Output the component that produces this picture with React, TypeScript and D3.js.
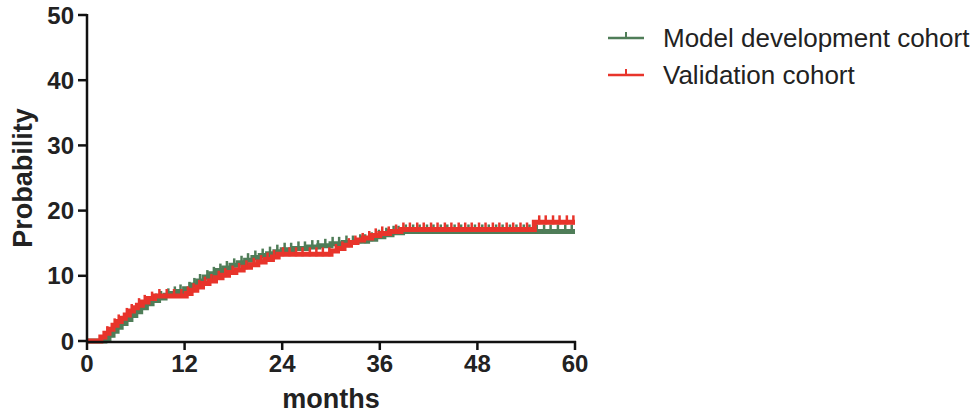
import * as d3 from "d3";

// step points (months, cumulative probability %)
const devMonths = [0, 2.2, 2.7, 3.2, 3.7, 4.2, 4.8, 5.4, 6.0, 6.6, 7.3, 8.0, 8.8, 9.6, 10.4, 11.2, 12.0, 12.8, 13.6, 14.4, 15.2, 16.0, 16.8, 17.7, 18.6, 19.5, 20.4, 21.3, 22.2, 23.1, 24.0, 25.5, 27.0, 28.5, 30.0, 31.5, 33.0, 34.5, 35.5, 36.5, 37.5, 38.8, 60];
const devValues = [0, 0.4, 0.9, 1.5, 2.1, 2.7, 3.3, 3.9, 4.5, 5.1, 5.7, 6.2, 6.6, 7.0, 7.3, 7.6, 8.0, 8.6, 9.2, 9.8, 10.3, 10.8, 11.2, 11.6, 12.0, 12.4, 12.8, 13.1, 13.4, 13.7, 14.0, 14.2, 14.4, 14.6, 14.9, 15.1, 15.3, 15.6, 16.0, 16.3, 16.6, 16.8, 16.8];
const devCensor = [3.1, 4.4, 5.6, 6.9, 7.8, 8.5, 9.1, 10.0, 10.8, 11.5, 12.6, 13.2, 13.9, 14.8, 15.6, 16.4, 17.2, 18.1, 19.0, 19.8, 20.7, 21.6, 22.5, 23.4, 24.3, 25.1, 26.0, 26.8, 27.7, 28.4, 29.3, 30.2, 31.0, 31.9, 32.7, 33.6, 34.2, 35.0, 35.9, 36.8, 37.7, 38.3, 39.2, 40.1, 40.9, 41.8, 42.6, 43.5, 44.3, 45.2, 46.0, 46.9, 47.7, 48.6, 49.4, 50.3, 51.1, 52.0, 52.8, 53.7, 54.4, 55.3, 56.2, 57.0, 57.9, 58.8, 59.6];

const valMonths = [0, 1.7, 2.2, 2.7, 3.2, 3.7, 4.2, 4.7, 5.2, 5.7, 6.2, 6.8, 7.5, 8.3, 12.2, 12.8, 13.5, 14.2, 15.0, 15.8, 16.6, 17.4, 18.3, 19.2, 20.1, 21.0, 21.9, 22.8, 23.5, 30.0, 30.8, 31.6, 32.4, 33.2, 34.0, 35.0, 36.0, 37.2, 38.6, 55.0, 60];
const valValues = [0, 0.6, 1.2, 1.8, 2.4, 3.0, 3.5, 4.0, 4.6, 5.1, 5.5, 6.0, 6.5, 6.9, 7.3, 7.8, 8.3, 8.8, 9.2, 9.7, 10.1, 10.5, 10.9, 11.3, 11.7, 12.1, 12.5, 12.9, 13.3, 13.8, 14.2, 14.7, 15.1, 15.5, 15.8, 16.2, 16.5, 16.8, 17.1, 18.2, 18.2];
const valCensor = [2.5, 3.4, 3.9, 4.9, 5.5, 6.4, 7.1, 8.0, 8.9, 9.8, 10.7, 11.6, 12.4, 13.1, 13.8, 14.5, 15.3, 16.2, 17.0, 17.9, 18.7, 19.6, 20.5, 21.4, 22.2, 23.0, 24.1, 24.9, 25.7, 26.5, 27.4, 28.2, 29.0, 29.8, 30.6, 31.4, 32.2, 33.0, 33.9, 34.7, 35.5, 36.3, 37.1, 38.0, 38.9, 39.7, 40.6, 41.4, 42.3, 43.1, 44.0, 44.8, 45.7, 46.5, 47.3, 48.2, 49.0, 49.9, 50.7, 51.6, 52.4, 53.3, 54.1, 55.6, 56.4, 57.3, 58.1, 59.0, 59.8];

const xTicks = [0, 12, 24, 36, 48, 60];
const yTicks = [0, 10, 20, 30, 40, 50];

const series = [
  { name: "Model development cohort", color: "#4f7d58", months: devMonths, values: devValues, censor: devCensor },
  { name: "Validation cohort", color: "#e8342b", months: valMonths, values: valValues, censor: valCensor },
];

const font = "'Liberation Sans', Arial, sans-serif";

export default function App() {
  const x = d3.scaleLinear().domain([0, 60]).range([87, 575]);
  const y = d3.scaleLinear().domain([0, 50]).range([341, 15]);

  // value at time t for a step curve
  const stepAt = (months: number[], values: number[], t: number) => {
    const i = d3.bisectRight(months, t) - 1;
    return values[Math.max(0, i)];
  };

  return (
    <div style={{ position: "absolute", left: 0, top: 0 }}>
      <svg width={978} height={418} style={{ display: "block", background: "#fff" }}>
        {/* curves */}
        {series.map((s) => {
          const pts = s.months.map((m, i) => [m, s.values[i]] as [number, number]);
          const path = d3
            .line<[number, number]>()
            .x((d) => x(d[0]))
            .y((d) => y(d[1]))
            .curve(d3.curveStepAfter)(pts);
          return (
            <g key={s.name}>
              <path d={path ?? ""} fill="none" stroke={s.color} strokeWidth={5} />
              {s.censor.map((c, i) => {
                const yy = y(stepAt(s.months, s.values, c));
                return (
                  <line key={i} x1={x(c)} x2={x(c)} y1={yy + 2} y2={yy - 7} stroke={s.color} strokeWidth={2.5} />
                );
              })}
            </g>
          );
        })}

        {/* axes */}
        <g stroke="#111" strokeWidth={2.5} fill="none">
          <line x1={x(0)} x2={x(0)} y1={y(50) - 1} y2={y(0) + 1} />
          <line x1={x(0) - 1} x2={x(60) + 1} y1={y(0) + 1} y2={y(0) + 1} />
          {yTicks.map((t) => (
            <line key={t} x1={x(0) - 9} x2={x(0)} y1={y(t)} y2={y(t)} />
          ))}
          {xTicks.map((t) => (
            <line key={t} x1={x(t)} x2={x(t)} y1={y(0)} y2={y(0) + 9} />
          ))}
        </g>
        <g fontFamily={font} fontWeight="bold" fontSize={24} fill="#222">
          {yTicks.map((t) => (
            <text key={t} x={x(0) - 13} y={y(t) + 8.5} textAnchor="end">{t}</text>
          ))}
          {xTicks.map((t) => (
            <text key={t} x={x(t)} y={y(0) + 31} textAnchor="middle">{t}</text>
          ))}
        </g>
        <text x={(x(0) + x(60)) / 2} y={408} textAnchor="middle" fontFamily={font} fontWeight="bold" fontSize={27} fill="#222">months</text>
        <text transform={`translate(32,${(y(0) + y(50)) / 2}) rotate(-90)`} textAnchor="middle" fontFamily={font} fontWeight="bold" fontSize={27} fill="#222">Probability</text>

        {/* legend */}
        {series.map((s, i) => {
          const ly = 38 + i * 37;
          return (
            <g key={s.name}>
              <line x1={608} x2={644} y1={ly} y2={ly} stroke={s.color} strokeWidth={2.5} />
              <line x1={626} x2={626} y1={ly} y2={ly - 6} stroke={s.color} strokeWidth={2} />
              <text x={663} y={ly + 9} fontFamily={font} fontSize={26} fill="#222">{s.name}</text>
            </g>
          );
        })}
      </svg>
    </div>
  );
}
